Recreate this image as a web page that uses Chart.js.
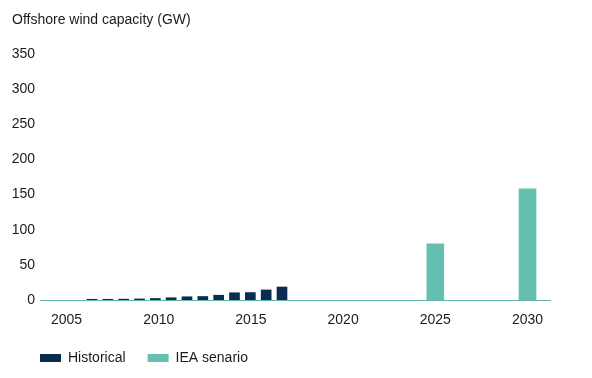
<!DOCTYPE html>
<html>
<head>
<meta charset="utf-8">
<script src="https://cdn.jsdelivr.net/npm/chart.js@4/dist/chart.umd.min.js"></script>
<style>
  html, body { margin: 0; padding: 0; background: #ffffff; }
  #wrap { width: 592px; height: 378px; }
</style>
</head>
<body>
<div id="wrap"><canvas id="c" width="592" height="378"></canvas></div>
<script>
// ---- data ----
const titleText = "Offshore wind capacity (GW)";
const histYears = [2005, 2006, 2007, 2008, 2009, 2010, 2011, 2012, 2013, 2014, 2015, 2016, 2017];
const histValues = [1, 1, 1.2, 1.5, 2.2, 3.2, 4.6, 5, 6.8, 10.3, 10.6, 14.3, 18.5];
const scenYears = [2025, 2030];
const scenValues = [80, 158];
const xTickYears = [2005, 2010, 2015, 2020, 2025, 2030];
const yTicks = [0, 50, 100, 150, 200, 250, 300, 350];
const seriesNames = ["Historical", "IEA senario"];

const FONT = "'Liberation Sans Narrow', 'Arial Narrow', 'Liberation Sans', Arial, sans-serif";
const FS = 14;
const TEXT = "#1b1b1b";
const NAVY = "#0c2b4f";
const TEAL = "#66c0b2";

const legendPlacePlugin = {
  id: 'legendPlace',
  afterInit(chart) {
    const lg = chart.legend;
    if (lg && !lg._patched) {
      const f = lg.fit;
      lg.fit = function () { f.call(this); this.height = 49; };
      lg._patched = true;
    }
  },
  afterLayout(chart) {
    const lg = chart.legend;
    if (lg) { lg.left = 18; }
  }
};

new Chart(document.getElementById('c'), {
  type: 'bar',
  data: {
    datasets: [
      {
        label: seriesNames[0],
        data: histYears.map((yr, i) => ({ x: yr, y: histValues[i] })),
        backgroundColor: NAVY,
        borderWidth: 0,
        barThickness: 10,
        xAxisID: 'xh',
        grouped: false
      },
      {
        label: seriesNames[1],
        data: scenYears.map((yr, i) => ({ x: yr, y: scenValues[i] })),
        backgroundColor: TEAL,
        borderWidth: 0,
        barThickness: 17,
        xAxisID: 'x',
        grouped: false
      }
    ]
  },
  options: {
    responsive: false,
    animation: false,
    devicePixelRatio: 1,
    layout: { padding: { left: 12, right: 42, top: 0, bottom: 0 } },
    scales: {
      x: {
        type: 'linear',
        offset: false,
        min: 2003.563,
        max: 2031.22,
        grid: { display: false, drawTicks: false, offset: false },
        border: { display: true, color: '#5fb7ab', width: 1 },
        afterBuildTicks: s => { s.ticks = xTickYears.map(v => ({ value: v })); },
        afterFit: s => { s.height = 29; },
        ticks: {
          padding: 12,
          color: TEXT,
          font: { family: FONT, size: FS },
          maxRotation: 0,
          autoSkip: false,
          callback: v => String(v)
        }
      },
      xh: {
        type: 'linear',
        display: false,
        offset: false,
        min: 2001.716,
        max: 2033.926,
        grid: { display: false, offset: false }
      },
      y: {
        min: 0,
        max: 350,
        grid: { display: false, drawTicks: false },
        border: { display: false },
        afterBuildTicks: s => { s.ticks = yTicks.map(v => ({ value: v })); },
        afterFit: s => { s.width = 28; },
        ticks: {
          padding: 5,
          color: TEXT,
          font: { family: FONT, size: FS }
        }
      }
    },
    plugins: {
      title: {
        display: true,
        text: titleText,
        align: 'start',
        color: TEXT,
        font: { family: FONT, size: FS, weight: 'normal' },
        padding: { top: 12, bottom: 25.2 }
      },
      legend: {
        position: 'bottom',
        align: 'start',
        labels: {
          boxWidth: 21,
          boxHeight: 8,
          padding: 22,
          color: TEXT,
          font: { family: FONT, size: FS }
        }
      },
      tooltip: { enabled: false }
    }
  },
  plugins: [legendPlacePlugin]
});
</script>
</body>
</html>
